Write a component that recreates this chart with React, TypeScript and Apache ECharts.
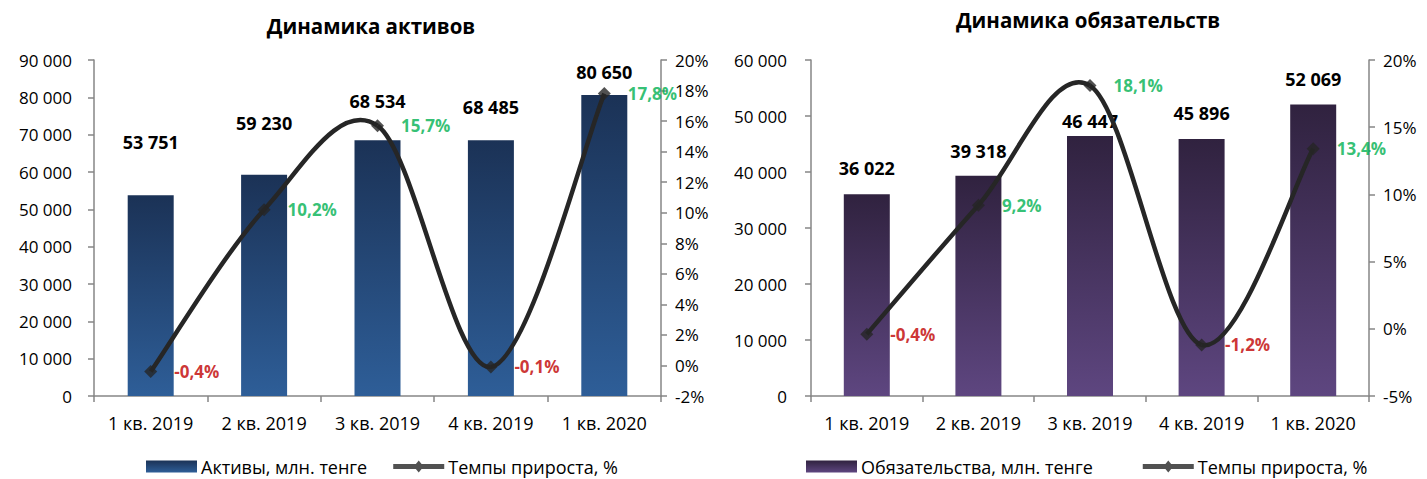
import React, { useEffect, useRef } from "react";
import * as echarts from "echarts";

const categories = ["1 кв. 2019", "2 кв. 2019", "3 кв. 2019", "4 кв. 2019", "1 кв. 2020"];
const assets = [53751, 59230, 68534, 68485, 80650];
const assetsGrowth = [-0.4, 10.2, 15.7, -0.1, 17.8];
const liabilities = [36022, 39318, 46447, 45896, 52069];
const liabilitiesGrowth = [-0.4, 9.2, 18.1, -1.2, 13.4];

const assetsTitle = "Динамика активов";
const liabilitiesTitle = "Динамика обязательств";
const assetsName = "Активы, млн. тенге";
const liabilitiesName = "Обязательства, млн. тенге";
const growthName = "Темпы прироста, %";

// label distance above bars (style only)
const assetsLabelGap = [44, 43, 30, 24, 14];
const liabilitiesLabelGap = [17, 16, 6, 17, 16];

const FONT = "'Open Sans', 'Noto Sans', sans-serif";
const AXIS_COLOR = "#868686";
const LINE_COLOR = "#262626";

const fmtThousands = (v: number) => String(v).replace(/\B(?=(\d{3})+(?!\d))/g, " ");
const fmtPct = (v: number) => String(v).replace(".", ",") + "%";

const legendLineIcon = "path://M0,3.5 H52 V8.5 H0 Z M26,0 L31,6 L26,12 L21,6 Z";

function curveRender(values: number[]) {
  return (params: any, api: any) => {
    const i = params.dataIndex;
    if (i >= values.length - 1) return null;
    const P = (k: number) => {
      const kk = Math.max(0, Math.min(values.length - 1, k));
      return api.coord([kk, values[kk]]);
    };
    const p0 = P(i - 1), p1 = P(i), p2 = P(i + 1), p3 = P(i + 2);
    return {
      type: "bezierCurve",
      shape: {
        x1: p1[0], y1: p1[1],
        x2: p2[0], y2: p2[1],
        cpx1: p1[0] + (p2[0] - p0[0]) / 6,
        cpy1: p1[1] + (p2[1] - p0[1]) / 6,
        cpx2: p2[0] - (p3[0] - p1[0]) / 6,
        cpy2: p2[1] - (p3[1] - p1[1]) / 6,
      },
      style: { stroke: LINE_COLOR, lineWidth: 4.5, fill: "none" },
    };
  };
}

function xAxisCfg(gridIndex: number) {
  return {
    type: "category",
    gridIndex,
    data: categories,
    axisLine: { show: true, lineStyle: { color: AXIS_COLOR, width: 1.5 } },
    axisTick: { show: true, length: 6, lineStyle: { color: AXIS_COLOR, width: 1.5 } },
    axisLabel: { fontSize: 18, color: "#000", margin: 18, fontFamily: FONT },
    splitLine: { show: false },
  };
}

function yAxisCfg(gridIndex: number, min: number, max: number, interval: number, right: boolean, fmt: (v: number) => string, margin: number) {
  return {
    type: "value",
    gridIndex,
    min,
    max,
    interval,
    position: right ? "right" : "left",
    axisLine: { show: true, lineStyle: { color: AXIS_COLOR, width: 1.5 } },
    axisTick: { show: true, length: 6, lineStyle: { color: AXIS_COLOR, width: 1.5 } },
    axisLabel: { fontSize: 17, color: "#000", margin, fontFamily: FONT, formatter: fmt },
    splitLine: { show: false },
  };
}

function barSeries(name: string, values: number[], gaps: number[], xi: number, yi: number, top: string, bottom: string) {
  return {
    type: "bar",
    name,
    xAxisIndex: xi,
    yAxisIndex: yi,
    barWidth: 46,
    z: 2,
    itemStyle: {
      color: new echarts.graphic.LinearGradient(0, 0, 0, 1, [
        { offset: 0, color: top },
        { offset: 1, color: bottom },
      ]),
    },
    data: values.map((v, i) => ({ value: v, label: { distance: gaps[i] } })),
    label: {
      show: true,
      position: "top",
      formatter: (p: any) => fmtThousands(p.value),
      fontSize: 18,
      fontWeight: "bold",
      color: "#000",
      fontFamily: FONT,
    },
  };
}

function curveSeries(values: number[], xi: number, yi: number) {
  return {
    type: "custom",
    xAxisIndex: xi,
    yAxisIndex: yi,
    silent: true,
    z: 3,
    renderItem: curveRender(values),
    encode: { x: 0, y: 1 },
    data: values.map((v, i) => [i, v]),
  };
}

function markerSeries(values: number[], xi: number, yi: number) {
  return {
    type: "scatter",
    name: growthName,
    xAxisIndex: xi,
    yAxisIndex: yi,
    symbol: "diamond",
    symbolSize: 13,
    z: 4,
    itemStyle: { color: LINE_COLOR },
    data: values.map((v) => ({
      value: v,
      label: { color: v < 0 ? "#c00000" : "#00b050" },
    })),
    label: {
      show: true,
      position: "right",
      distance: 17,
      formatter: (p: any) => fmtPct(p.value),
      fontSize: 17,
      fontWeight: "bold",
      fontFamily: FONT,
    },
  };
}

function legendCfg(left: number, gap: number, barName: string) {
  return {
    left,
    top: 457,
    padding: 0,
    itemWidth: 51,
    itemHeight: 12,
    itemGap: gap,
    selectedMode: false,
    textStyle: { fontSize: 18, color: "#000", fontFamily: FONT, lineHeight: 19, padding: [0, 0, 0, -1] },
    data: [
      { name: barName, icon: "rect" },
      { name: growthName, icon: legendLineIcon },
    ],
  };
}

export default function App() {
  const ref = useRef<HTMLDivElement>(null);
  useEffect(() => {
    if (!ref.current) return;
    const chart = echarts.init(ref.current, undefined, { renderer: "svg" });
    chart.setOption({
      animation: false,
      backgroundColor: "#fff",
      textStyle: { fontFamily: FONT },
      graphic: [
        {
          type: "text",
          x: 371,
          y: 26,
          style: {
            text: assetsTitle,
            textAlign: "center",
            textVerticalAlign: "middle",
            fontSize: 20.5,
            fontWeight: "bold",
            fontFamily: FONT,
            fill: "#000",
          },
        },
        {
          type: "text",
          x: 1088,
          y: 20,
          style: {
            text: liabilitiesTitle,
            textAlign: "center",
            textVerticalAlign: "middle",
            fontSize: 20.5,
            fontWeight: "bold",
            fontFamily: FONT,
            fill: "#000",
          },
        },
      ],
      legend: [legendCfg(146, 26, assetsName), legendCfg(806, 50, liabilitiesName)],
      grid: [
        { left: 94, right: 1427 - 661, top: 60, height: 336 },
        { left: 811, right: 1427 - 1369, top: 60, height: 336 },
      ],
      xAxis: [xAxisCfg(0), xAxisCfg(1)],
      yAxis: [
        yAxisCfg(0, 0, 90000, 10000, false, fmtThousands, 22),
        yAxisCfg(0, -2, 20, 2, true, (v) => v + "%", 14),
        yAxisCfg(1, 0, 60000, 10000, false, fmtThousands, 24),
        yAxisCfg(1, -5, 20, 5, true, (v) => v + "%", 14),
      ],
      series: [
        barSeries(assetsName, assets, assetsLabelGap, 0, 0, "#1b3256", "#2e5e98"),
        curveSeries(assetsGrowth, 0, 1),
        markerSeries(assetsGrowth, 0, 1),
        barSeries(liabilitiesName, liabilities, liabilitiesLabelGap, 1, 2, "#30223f", "#5e4680"),
        curveSeries(liabilitiesGrowth, 1, 3),
        markerSeries(liabilitiesGrowth, 1, 3),
      ],
    });
    return () => chart.dispose();
  }, []);
  return (
    <div
      ref={ref}
      style={{ position: "fixed", left: 0, top: 0, width: 1427, height: 479, background: "#fff" }}
    />
  );
}
